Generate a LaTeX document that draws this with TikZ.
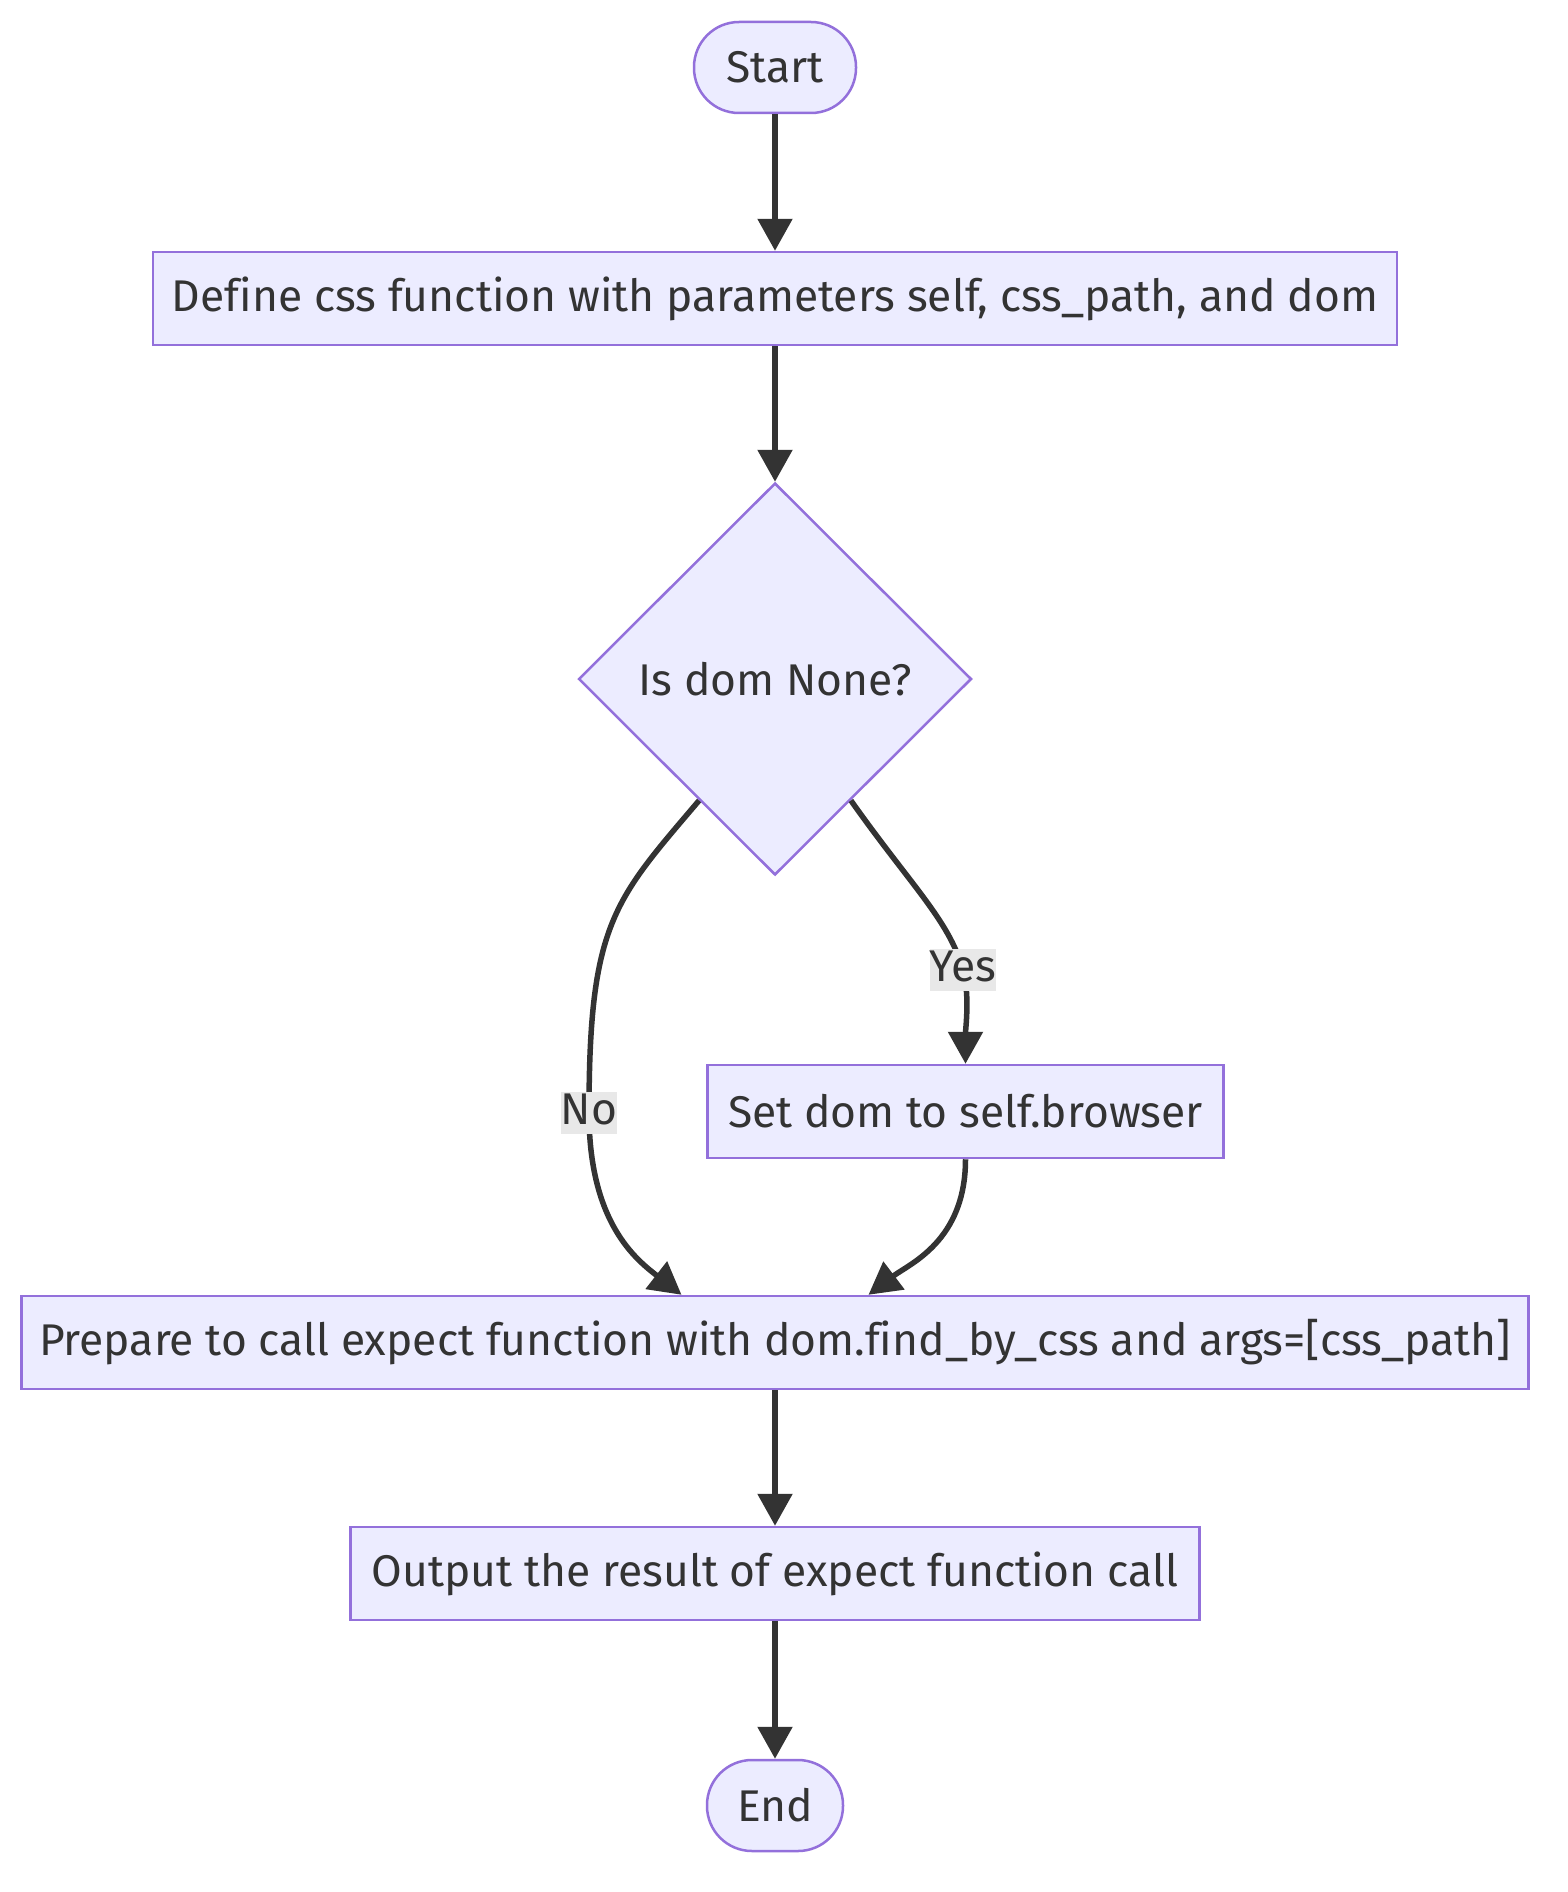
\documentclass[tikz,border=0pt]{standalone}
\usepackage{fontspec}
\setmainfont{Fira Sans}[Ligatures=NoCommon]
\usepackage{xcolor}
\usepackage{tikz}
\usetikzlibrary{positioning,shapes.geometric,arrows.meta}
\definecolor{boxfill}{HTML}{ECECFF}
\definecolor{boxline}{HTML}{9370DB}
\definecolor{ink}{HTML}{333333}
\definecolor{lblfill}{HTML}{E8E8E8}

\begin{document}
\begin{tikzpicture}[x=1pt,y=1pt,
		every node/.style={font=\fontsize{44.4}{53}\selectfont,text=ink},
		term/.style={draw=boxline,fill=boxfill,line width=2.5pt,rounded corners=45pt,minimum height=91pt,inner sep=0pt},
		box/.style={draw=boxline,fill=boxfill,line width=2.5pt,minimum height=93pt,inner sep=0pt},
		flow/.style={draw=ink,line width=5.5pt,-{Triangle[length=32pt,width=34pt]}},
		lbl/.style={fill=lblfill,inner sep=0pt,text height=32pt,text depth=10pt}]
		\useasboundingbox (0,0) rectangle (1568,-1892);
		
		\node[term,minimum width=162pt] (start) at (775,-67.5) {Start};
		
		\node[box,minimum width=1244pt,below=136.5pt of start] (def) {Define css function with parameters self, css\_path, and dom};
		
		\node[diamond,aspect=1,draw=boxline,fill=boxfill,line width=2.5pt,minimum width=393pt,minimum height=392pt,inner sep=0pt,below=135.5pt of def] (dom) {Is dom None?};
		
		\node[box,minimum width=516pt,below=187.5pt of dom.south,xshift=190.5pt] (setdom) {Set dom to self.browser};
		
		\node[box,minimum width=1507pt,below=418.5pt of dom] (prep) {Prepare to call expect function with dom.find\_by\_css and args=[css\_path]};
		
		\node[box,minimum width=849pt,below=135.5pt of prep] (out) {Output the result of expect function call};
		
		\node[term,minimum width=136pt,below=137.5pt of out] (stop) {End};
		
		\coordinate (nomid) at (589,-1113);
		\coordinate (yesmid) at (963,-970);
		
		\draw[flow] (start.south) -- (def.north);
		\draw[flow] (def.south) -- (dom.north);
		\draw[flow] (dom.-122) .. controls +(-85,-100) and +(0,190) .. (nomid) node[lbl] (no) {No}
			.. controls +(0,-110) and +(-45,35) .. ([xshift=-93.5pt]prep.north);
		\draw[flow] (dom.-58) .. controls +(60,-85) and +(-14,50) .. (yesmid) node[lbl] (yes) {Yes}
			.. controls +(7,-25) and +(0,35) .. (setdom.north);
		\draw[flow] (setdom.south) .. controls +(0,-82) and +(41,31) .. ([xshift=93.5pt]prep.north);
		\draw[flow] (prep.south) -- (out.north);
		\draw[flow] (out.south) -- (stop.north);
	\end{tikzpicture}
\end{document}
